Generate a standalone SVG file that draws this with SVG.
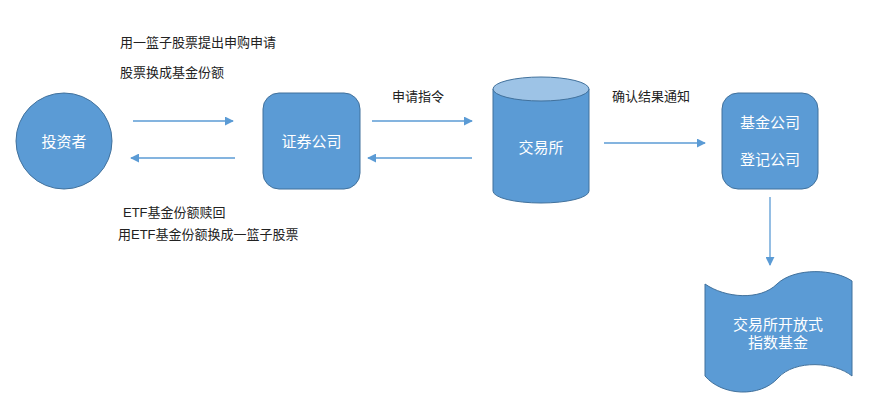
<svg xmlns="http://www.w3.org/2000/svg" width="872" height="412" viewBox="0 0 872 412">
<defs>
<style>
.node{fill:#5B9BD5;stroke:#41719C;stroke-width:1}
.nt{fill:#fff;font-family:"Liberation Sans","Noto Sans CJK SC",sans-serif;font-size:15px;text-anchor:middle}
.lb{fill:#222;font-family:"Liberation Sans","Noto Sans CJK SC",sans-serif;font-size:13px}
.cn{stroke:#5B9BD5;stroke-width:1.3;fill:none;marker-end:url(#ah)}
</style>
<marker id="ah" viewBox="0 0 10 10" refX="9" refY="5" markerWidth="9" markerHeight="9" markerUnits="userSpaceOnUse" orient="auto">
<path d="M0,0 L10,5 L0,10 Z" fill="#5B9BD5"/>
</marker>
</defs>
<rect width="872" height="412" fill="#fff"/>
<g id="investor">
<circle class="node" cx="64" cy="141" r="48"/>
<text class="nt" x="64" y="146.5">投资者</text>
</g>
<g id="broker">
<rect class="node" x="263" y="93" width="97" height="96" rx="16"/>
<text class="nt" x="311.5" y="146.5">证券公司</text>
</g>
<g id="exchange">
<path class="node" d="M493,89 L493,191 A48,12 0 0 0 589,191 L589,89"/>
<ellipse cx="541" cy="89" rx="48" ry="12" fill="#9DC3E6" stroke="#41719C" stroke-width="1"/>
<text class="nt" x="541" y="153">交易所</text>
</g>
<g id="fund">
<rect class="node" x="722" y="93" width="96" height="96" rx="16"/>
<text class="nt" x="770" y="127.5">基金公司</text>
<text class="nt" x="770" y="164.5">登记公司</text>
</g>
<g id="etf">
<path class="node" d="M705,284 C725,298 760,301 777,284 C795,267 835,269 852,281 L852,376 C835,362 795,359 778,378 C760,398 722,396 705,376 Z"/>
<text class="nt" x="778" y="329.5">交易所开放式</text>
<text class="nt" x="778" y="347.5">指数基金</text>
</g>
<g id="connectors">
<line class="cn" x1="133" y1="121" x2="233" y2="121"/>
<line class="cn" x1="235" y1="158" x2="131" y2="158"/>
<line class="cn" x1="372" y1="121" x2="472" y2="121"/>
<line class="cn" x1="472" y1="158" x2="368" y2="158"/>
<line class="cn" x1="604" y1="143" x2="705" y2="143"/>
<line class="cn" x1="770" y1="197" x2="770" y2="265"/>
</g>
<g id="labels">
<text class="lb" x="120" y="47">用一篮子股票提出申购申请</text>
<text class="lb" x="120" y="77">股票换成基金份额</text>
<text class="lb" x="392" y="100.5">申请指令</text>
<text class="lb" x="612" y="100.5">确认结果通知</text>
<text class="lb" x="123" y="216.5">ETF基金份额赎回</text>
<text class="lb" x="118" y="239">用ETF基金份额换成一篮子股票</text>
</g>
</svg>
